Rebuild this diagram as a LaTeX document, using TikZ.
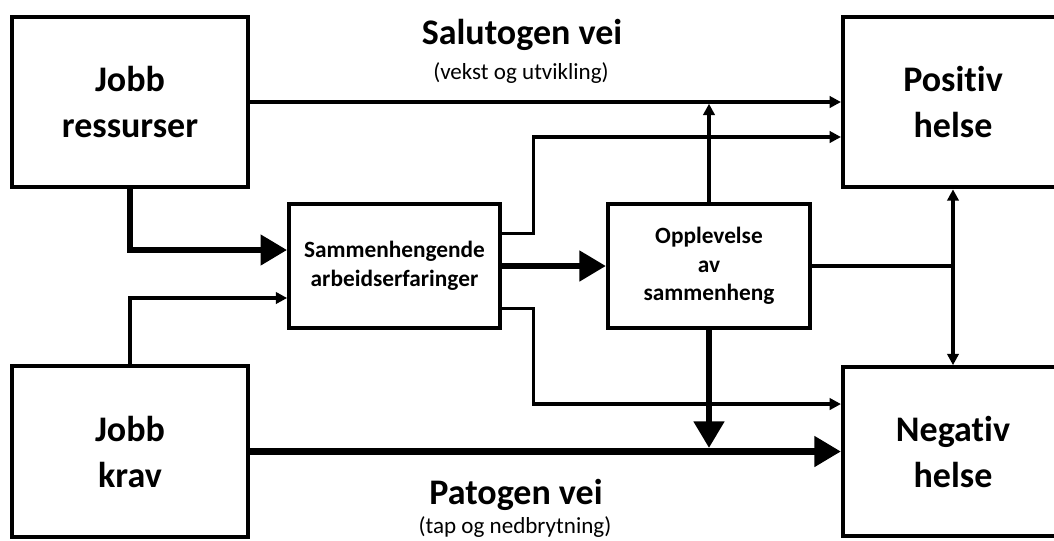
\documentclass[tikz,border=0pt]{standalone}
\usepackage{fontspec}
\setmainfont{Carlito}[Ligatures={NoCommon}]
\usetikzlibrary{arrows.meta,positioning}

\begin{document}
\begin{tikzpicture}[
  x=0.75pt, y=-0.75pt,
  bigbox/.style={draw, line width=3pt, align=center, inner sep=0pt,
    font=\fontsize{27}{34.5}\selectfont\bfseries, minimum width=177pt, minimum height=128pt},
  midbox/.style={draw, line width=3pt, align=center, inner sep=0pt,
    font=\fontsize{17.5}{21.4}\selectfont\bfseries, minimum height=93.5pt},
  title/.style={font=\fontsize{27}{32}\selectfont\bfseries, inner sep=0pt},
  sub/.style={font=\fontsize{17.3}{20}\selectfont, inner sep=0pt},
  plain/.style={line width=2.6pt},
  arr/.style={line width=2.6pt, -{Triangle[length=8.5pt,width=8.5pt]}},
  fat/.style={line width=5pt, -{Triangle[length=20pt,width=22pt]}}
]
\useasboundingbox (0,0) rectangle (1054,540);

\node[bigbox] (res) at (130,102) {Jobb\\ressurser};
\node[bigbox] (krav) at (130,451.5) {Jobb\\krav};
\node[bigbox, minimum width=165pt] (pos) at (953,102) {Positiv\\helse};
\node[bigbox, minimum width=165pt, minimum height=126.5pt] (neg) at (953,451.5) {Negativ\\helse};
\node[midbox, minimum width=158pt] (sam) at (394.5,266) {Sammenhengende\\arbeidserfaringer};
\node[midbox, minimum width=151.5pt] (opp) at (709,266) {Opplevelse\\av\\sammenheng};

\node[title] (sal) at (522,35) {Salutogen vei};
\node[sub] (salsub) at (521,73) {(vekst og utvikling)};
\node[title] (pat) at (516,495) {Patogen vei};
\node[sub] (patsub) at (515,527) {(tap og nedbrytning)};

% inn mot sammenhengende arbeidserfaringer
\draw[fat] (res.south) |- ([yshift=12pt]sam.west);
\draw[arr] (krav.north) |- ([yshift=-24pt]sam.west);

% salutogen og patogen vei
\draw[arr] (res.east) -- (pos.west);
\draw[fat] (krav.east) -- (neg.west);

% fra sammenhengende arbeidserfaringer
\draw[arr] ([yshift=24.4pt]sam.east) -- ++(31.5,0) |- ([yshift=-26.25pt]pos.west);
\draw[arr] ([yshift=-31.9pt]sam.east) -- ++(31.5,0) |- ([yshift=35.6pt]neg.west);
\draw[fat] (sam.east) -- (opp.west);

% fra opplevelse av sammenheng
\draw[arr] (opp.north) -- ([yshift=-1.3pt]opp.north |- res.east);
\draw[fat] (opp.south) -- ([yshift=2.6pt]opp.south |- krav.east);
\draw[plain] (opp.east) -- (opp.east -| pos.south);
\draw[line width=2.6pt, {Triangle[length=8.5pt,width=8.5pt]}-{Triangle[length=8.5pt,width=8.5pt]}] (pos.south) -- (neg.north);
\end{tikzpicture}
\end{document}
